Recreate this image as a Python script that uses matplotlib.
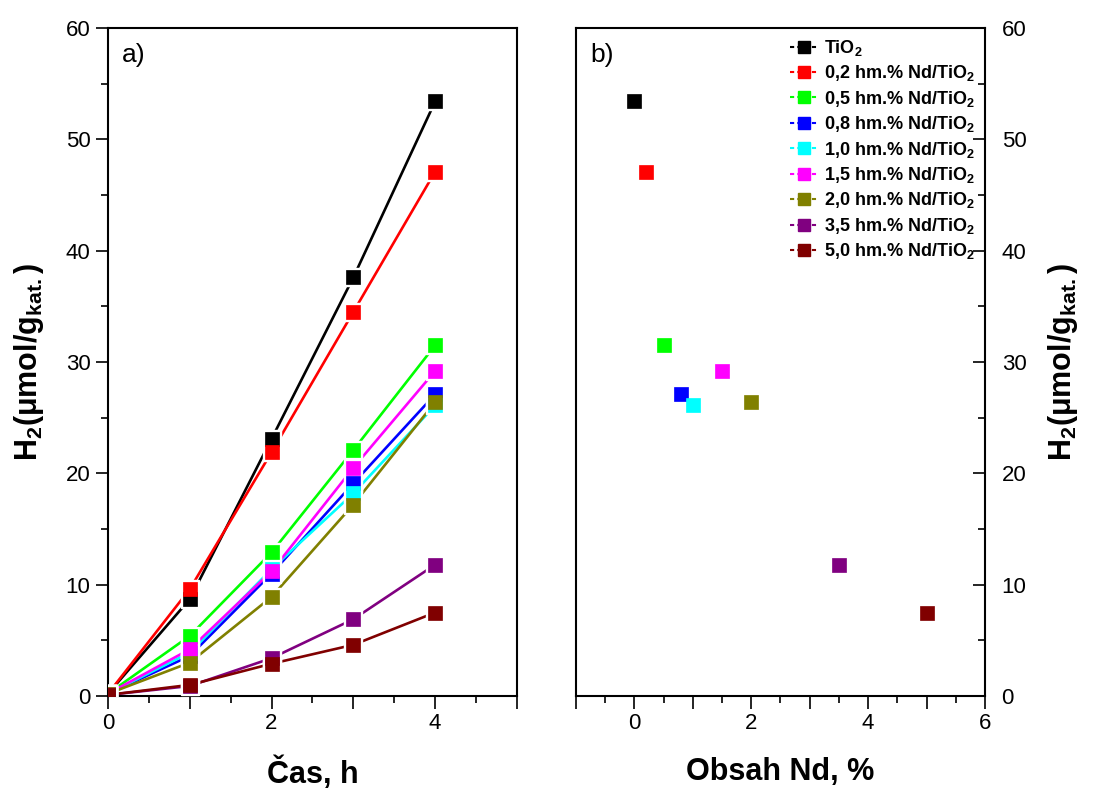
import matplotlib
matplotlib.use('Agg')
import matplotlib.pyplot as plt
import matplotlib.ticker as mticker
from matplotlib.lines import Line2D

plt.rcParams['font.family'] = ['Liberation Sans', 'DejaVu Sans']
plt.rcParams['mathtext.fontset'] = 'custom'
plt.rcParams['mathtext.rm'] = 'Liberation Sans:bold'
plt.rcParams['mathtext.default'] = 'rm'

# ── data ──
times = [0, 1, 2, 3, 4]
nd_content = [0, 0.2, 0.5, 0.8, 1.0, 1.5, 2.0, 3.5, 5.0]
labels = ['TiO$_2$', '0,2 hm.% Nd/TiO$_2$', '0,5 hm.% Nd/TiO$_2$', '0,8 hm.% Nd/TiO$_2$',
          '1,0 hm.% Nd/TiO$_2$', '1,5 hm.% Nd/TiO$_2$', '2,0 hm.% Nd/TiO$_2$',
          '3,5 hm.% Nd/TiO$_2$', '5,0 hm.% Nd/TiO$_2$']
h2_tio2 = [0.2, 8.7, 23.1, 37.6, 53.4]
h2_nd02 = [0.2, 9.6, 21.9, 34.5, 47.1]
h2_nd05 = [0.2, 5.4, 12.9, 22.1, 31.5]
h2_nd08 = [0.2, 3.6, 11.0, 19.1, 27.1]
h2_nd10 = [0.2, 3.9, 11.4, 18.2, 26.1]
h2_nd15 = [0.2, 4.2, 11.2, 20.5, 29.2]
h2_nd20 = [0.2, 3.0, 8.9, 17.2, 26.4]
h2_nd35 = [0.1, 0.9, 3.4, 6.9, 11.8]
h2_nd50 = [0.1, 1.0, 2.9, 4.6, 7.5]
series = [h2_tio2, h2_nd02, h2_nd05, h2_nd08, h2_nd10, h2_nd15, h2_nd20, h2_nd35, h2_nd50]
colors = ['#000000', '#FF0000', '#00FF00', '#0000FF', '#00FFFF', '#FF00FF',
          '#808000', '#800080', '#800000']

fig = plt.figure(figsize=(10.95, 7.96), dpi=100)
ax1 = fig.add_axes([0.0986, 0.1256, 0.3735, 0.8392])
ax2 = fig.add_axes([0.526, 0.1256, 0.3735, 0.8392])

# ── panel a ──
for vals, c in zip(series, colors):
    ax1.plot(times, vals, color=c, lw=1.9, zorder=2)
    ax1.plot(times, vals, ls='none', marker='s', ms=13.5, mfc='white', mec='white',
             zorder=3)
for vals, c in zip(series, colors):
    ax1.plot(times, vals, ls='none', marker='s', ms=9.5, mfc=c, mec=c, mew=0.5,
             zorder=4)

ax1.set_xlim(0, 5)
ax1.set_ylim(0, 60)
ax1.xaxis.set_major_locator(mticker.MultipleLocator(1))
ax1.xaxis.set_minor_locator(mticker.MultipleLocator(0.5))
ax1.xaxis.set_major_formatter(mticker.FuncFormatter(
    lambda x, p: f'{x:.0f}' if round(x) % 2 == 0 else ''))
ax1.yaxis.set_major_locator(mticker.MultipleLocator(10))
ax1.yaxis.set_minor_locator(mticker.MultipleLocator(5))
ax1.tick_params(which='major', direction='out', length=9, width=1.2, labelsize=16)
ax1.tick_params(which='minor', direction='out', length=5, width=1.2)
ax1.set_xlabel('Čas, h', fontsize=22, fontweight='bold', labelpad=16)
ax1.set_ylabel('H$_2$(μmol/g$_{kat.}$)', fontsize=22, fontweight='bold', labelpad=14)
ax1.text(0.035, 0.96, 'a)', transform=ax1.transAxes, fontsize=19, va='center')
for s in ax1.spines.values():
    s.set_linewidth(1.5)

# ── panel b ──
last_vals = [vals[-1] for vals in series]
for x, y, c in zip(nd_content, last_vals, colors):
    ax2.plot(x, y, ls='none', marker='s', ms=10, mfc=c, mec=c, mew=0.5)

ax2.set_xlim(-1, 6)
ax2.set_ylim(0, 60)
ax2.xaxis.set_major_locator(mticker.MultipleLocator(1))
ax2.xaxis.set_minor_locator(mticker.MultipleLocator(0.5))
ax2.xaxis.set_major_formatter(mticker.FuncFormatter(
    lambda x, p: f'{x:.0f}' if round(x) % 2 == 0 else ''))
ax2.yaxis.set_major_locator(mticker.MultipleLocator(10))
ax2.yaxis.set_minor_locator(mticker.MultipleLocator(5))
ax2.yaxis.tick_right()
ax2.yaxis.set_label_position('right')
ax2.tick_params(axis='x', which='major', direction='out', length=9, width=1.2, labelsize=16)
ax2.tick_params(axis='x', which='minor', direction='out', length=5, width=1.2)
ax2.tick_params(axis='y', which='major', direction='in', length=9, width=1.2, labelsize=16,
                pad=12)
ax2.tick_params(axis='y', which='minor', direction='in', length=5, width=1.2)
ax2.set_xlabel('Obsah Nd, %', fontsize=22, fontweight='bold', labelpad=16)
ax2.set_ylabel('H$_2$(μmol/g$_{kat.}$)', fontsize=22, fontweight='bold', labelpad=14)
ax2.text(0.035, 0.96, 'b)', transform=ax2.transAxes, fontsize=19, va='center')
for s in ax2.spines.values():
    s.set_linewidth(1.5)

handles = [Line2D([], [], color=c, lw=1.5, ls=(0, (2, 1.5)), marker='s', ms=8)
           for c in colors]
ax2.legend(handles, labels, loc='upper right', bbox_to_anchor=(1.0, 1.0),
           frameon=False, prop={'size': 13, 'weight': 'bold'}, handlelength=1.5,
           handletextpad=0.4, labelspacing=0.3, borderaxespad=0.15)

fig.savefig('out.png', dpi=100)
